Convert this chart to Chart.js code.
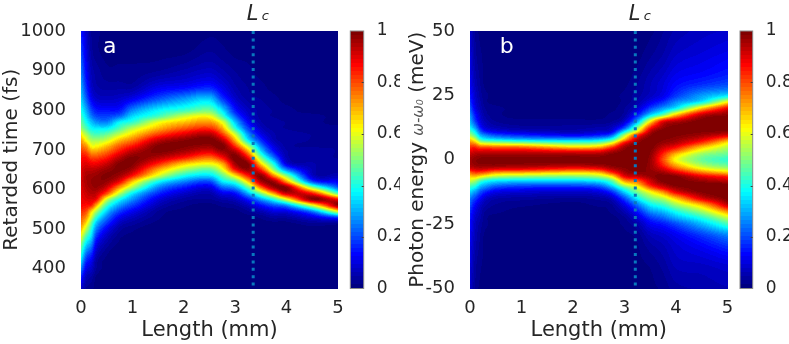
<!DOCTYPE html>
<html>
<head>
<meta charset="utf-8">
<title>Retarded time and photon energy maps</title>
<script src="https://cdn.jsdelivr.net/npm/chart.js@4"></script>
<style>
  html, body { margin: 0; padding: 0; background: #fff; overflow: hidden; }
  canvas { position: absolute; top: 0; }
</style>
</head>
<body>
<canvas id="map-time" width="351" height="344" style="left:0"></canvas>
<canvas id="bar-time" width="55" height="344" style="left:345px"></canvas>
<canvas id="map-energy" width="351" height="344" style="left:390px"></canvas>
<canvas id="bar-energy" width="54" height="344" style="left:735px"></canvas>
<script>
// Values, in percent of full scale. One inner list per length, top row first.
const lengthTicks = [0, 1, 2, 3, 4, 5];
const timeTicks = [400, 500, 600, 700, 800, 900, 1000];
const energyTicks = [-50, -25, 0, 25, 50];
const barTicks = [0, 0.2, 0.4, 0.6, 0.8, 1];

const timeLengths = [0, 0.1, 0.2, 0.3, 0.5, 0.75, 1, 1.5, 2, 2.5, 2.75, 3, 3.25, 3.5, 3.75, 4, 4.5, 5];
const timeRows = [1000, 950, 900, 860, 830, 800, 785, 770, 755, 740, 725, 710, 695, 680, 665, 650, 635,
  620, 605, 590, 575, 560, 545, 530, 515, 500, 480, 460, 440, 420, 400, 375, 350];
const timeMap = [
  [15,20,25,30,34,40,44,48,53,63,71,77,82,86,88,90,90,91,90,89,88,87,83,79,75,69,60,50,43,35,26,15,8],
  [8,10,13,17,22,30,34,39,45,54,62,72,80,86,90,93,95,95,94,92,90,86,80,73,65,56,44,34,25,17,11,6,3],
  [3,4,6,8,12,20,25,32,38,46,54,62,72,81,88,93,96,97,96,94,90,84,67,58,48,41,34,26,18,12,8,4,2],
  [2,2,4,5,8,15,20,27,36,44,53,62,72,81,88,94,97,98,97,93,87,70,54,42,32,25,17,11,7,4,3,1,1],
  [1,1,2,4,7,14,19,25,36,47,57,68,77,85,92,97,99,97,91,80,58,44,33,25,18,12,7,4,2,1,1,0,0],
  [0,1,2,4,8,15,23,37,45,56,68,78,86,94,99,99,96,88,72,56,39,28,19,12,7,4,2,1,0,0,0,0,0],
  [0,1,2,4,11,26,34,42,55,65,75,85,94,99,99,95,86,68,54,37,27,19,12,7,4,2,1,0,0,0,0,0,0],
  [0,1,3,10,20,37,44,60,69,80,92,99,99,94,84,71,59,39,26,17,10,6,3,2,1,0,0,0,0,0,0,0,0],
  [0,1,5,12,27,43,57,68,78,89,98,99,95,85,68,54,40,26,15,8,4,2,1,0,0,0,0,0,0,0,0,0,0],
  [1,3,7,15,32,48,61,72,82,94,100,97,89,76,62,47,35,20,10,5,3,1,1,0,0,0,0,0,0,0,0,0,0],
  [1,2,5,10,18,35,44,60,70,81,93,100,96,86,71,60,47,36,22,11,5,2,1,0,0,0,0,0,0,0,0,0,0],
  [1,1,3,5,8,15,22,32,41,57,69,82,95,100,96,86,65,44,28,14,7,3,1,1,0,0,0,0,0,0,0,0,0],
  [1,1,2,3,4,7,9,13,19,27,36,55,72,87,99,97,85,67,47,30,15,7,3,1,1,0,0,0,0,0,0,0,0],
  [1,1,1,2,3,4,4,5,7,11,17,26,36,50,66,83,98,95,76,50,28,14,6,2,1,0,0,0,0,0,0,0,0],
  [0,0,1,1,2,3,3,4,4,5,6,10,15,25,39,52,74,96,96,72,41,21,10,4,1,0,0,0,0,0,0,0,0],
  [0,0,0,1,1,2,2,3,3,4,4,4,5,6,10,26,50,72,98,92,60,27,11,4,1,0,0,0,0,0,0,0,0],
  [0,0,0,0,1,1,2,2,2,3,3,3,4,4,5,6,8,20,52,85,98,60,26,10,3,1,0,0,0,0,0,0,0],
  [0,0,0,0,1,1,1,1,2,2,2,3,3,3,4,4,6,12,22,45,87,98,62,20,3,1,0,0,0,0,0,0,0]
];

const energyLengths = [0, 0.1, 0.2, 0.3, 0.5, 1, 2, 2.5, 2.75, 3, 3.25, 3.5, 3.75, 4, 4.5, 5];
const energyRows = [50, 40, 30, 25, 22.5, 20, 17.5, 15, 12.5, 11, 9.5, 8, 6.5, 5, 3.5, 2, 0,
  -2, -3.5, -5, -6.5, -8, -9.5, -11, -12.5, -15, -17.5, -20, -22.5, -25, -30, -40, -50];
const energyMap = [
  [8,10,12,15,18,22,27,31,37,46,55,66,75,83,88,93,96,95,90,77,67,59,49,41,34,25,21,17,15,14,12,10,8],
  [3,4,6,8,9,11,15,19,28,36,45,57,71,83,90,95,98,97,92,81,68,55,45,36,28,19,13,10,8,7,6,4,3],
  [1,2,3,4,5,6,8,10,15,22,31,42,60,78,89,96,99,98,93,80,64,47,36,28,21,13,8,6,5,4,3,2,1],
  [1,1,1,2,2,3,4,6,9,15,26,37,57,78,90,96,100,98,92,78,60,42,32,24,16,8,5,3,2,2,1,1,0],
  [0,0,1,1,1,2,2,3,6,11,21,34,55,76,89,96,100,98,90,72,55,38,27,18,11,5,3,2,1,1,1,0,0],
  [0,0,0,0,0,1,1,2,4,8,17,30,52,75,89,96,100,97,89,70,52,36,24,15,9,4,2,1,1,0,0,0,0],
  [0,0,0,0,0,1,1,2,4,6,13,28,47,65,85,96,100,96,84,66,50,36,24,14,8,3,1,1,0,0,0,0,0],
  [0,0,0,0,0,0,1,2,5,8,16,31,50,68,86,96,100,97,87,69,54,39,27,17,10,4,2,1,1,0,0,0,0],
  [0,0,0,1,1,1,2,3,7,11,23,40,61,80,93,99,100,99,94,82,64,48,38,27,17,7,3,2,1,1,0,0,0],
  [0,0,1,2,2,3,4,8,20,36,55,68,87,96,99,100,100,100,98,95,88,74,60,44,34,20,11,6,3,2,1,0,0],
  [0,1,3,4,5,8,15,29,50,63,83,93,98,100,100,100,100,100,100,98,92,80,69,58,49,37,24,15,9,5,2,1,0],
  [1,3,6,7,11,19,33,62,84,93,98,100,100,100,99,98,97,97,97,98,97,92,87,76,62,49,37,27,18,12,6,2,1],
  [3,5,9,11,17,28,47,87,97,100,100,99,97,93,88,83,80,84,90,96,100,100,96,88,74,56,43,32,23,15,8,4,2],
  [5,8,13,18,26,37,67,93,100,100,99,97,94,87,78,68,62,70,79,90,99,100,100,96,89,68,53,40,30,20,11,7,4],
  [7,10,16,28,37,67,92,100,100,99,96,90,81,69,60,52,48,54,63,76,89,96,100,100,99,90,69,54,41,31,17,8,5],
  [8,12,19,35,62,88,98,100,100,98,90,76,63,56,51,47,42,47,55,68,84,92,99,100,100,100,93,74,57,44,24,10,6]
];

const timeCritical = 3.35;
const energyCritical = 3.21;

const TICK_COLOR = '#262626';
const FONT = '"DejaVu Sans"';

// MATLAB jet, 64 levels
function jet(v) {
  const t = Math.min(63, Math.floor(Math.max(0, Math.min(1, v)) * 64)) / 63;
  const c = k => Math.round(255 * Math.max(0, Math.min(1, 1.5 - Math.abs(4 * t - k))));
  return [c(3), c(2), c(1)];
}

// Position of value in a sorted grid: index of the lower node and the fraction to the next one
function gridSlot(grid, value) {
  const falling = grid[0] > grid[grid.length - 1];
  let i = 0;
  while (i < grid.length - 2 && (falling ? grid[i + 1] >= value : grid[i + 1] <= value)) i++;
  const f = (value - grid[i]) / (grid[i + 1] - grid[i]);
  return [i, Math.max(0, Math.min(1, f))];
}

// Hermite weights so the shading between grid nodes has no visible kinks
function hermite(grid, i, f) {
  const h = grid[i + 1] - grid[i];
  const lo = Math.max(0, i - 1), hi = Math.min(grid.length - 1, i + 2);
  const w0 = 2 * f * f * f - 3 * f * f + 1, w1 = -2 * f * f * f + 3 * f * f;
  const t0 = (f * f * f - 2 * f * f + f) * h, t1 = (f * f * f - f * f) * h;
  return { i, lo, hi, w0, w1,
    t0: t0 / (grid[i + 1] - grid[lo]), t1: t1 / (grid[hi] - grid[i]) };
}

function blend(get, s) {
  return s.w0 * get(s.i) + s.w1 * get(s.i + 1)
    + s.t0 * (get(s.i + 1) - get(s.lo)) + s.t1 * (get(s.hi) - get(s.i));
}

// Paints the map dataset inside the chart area, shaded between the grid nodes
const heatPlugin = {
  id: 'heat',
  beforeDatasetsDraw(chart) {
    const ds = chart.data.datasets[0];
    const { left, top, right, bottom } = chart.chartArea;
    const xs = chart.scales.x, ys = chart.scales.y;
    const x0 = Math.round(left), y0 = Math.round(top);
    const w = Math.round(right) - x0, h = Math.round(bottom) - y0;
    const img = chart.ctx.createImageData(w, h);
    const nr = ds.rows.length;
    const cellAt = (c, r) => ds.data[c * nr + r].v;
    const rowWeights = [];
    for (let py = 0; py < h; py++) {
      const [r, f] = gridSlot(ds.rows, ys.getValueForPixel(y0 + py + 0.5));
      rowWeights.push(hermite(ds.rows, r, f));
    }
    for (let px = 0; px < w; px++) {
      const [c, fx] = gridSlot(ds.lengths, xs.getValueForPixel(x0 + px + 0.5));
      const cw = hermite(ds.lengths, c, fx);
      for (let py = 0; py < h; py++) {
        const v = blend(col => blend(row => cellAt(col, row), rowWeights[py]), cw);
        const rgb = jet(v);
        const k = (py * w + px) * 4;
        img.data[k] = rgb[0]; img.data[k + 1] = rgb[1]; img.data[k + 2] = rgb[2]; img.data[k + 3] = 255;
      }
    }
    chart.ctx.putImageData(img, x0, y0);
  }
};

// Panel letter, Lc marker and the rotated y title with its mixed fonts
const textPlugin = {
  id: 'panelText',
  afterDraw(chart, args, opts) {
    const ctx = chart.ctx;
    const xs = chart.scales.x, ys = chart.scales.y;
    ctx.save();
    ctx.textBaseline = 'alphabetic';
    ctx.textAlign = 'left';

    ctx.fillStyle = '#fff';
    ctx.font = `22px ${FONT}`;
    ctx.fillText(opts.letter, xs.getPixelForValue(opts.letterAt[0]), ys.getPixelForValue(opts.letterAt[1]));

    const lineX = xs.getPixelForValue(opts.critical);
    ctx.fillStyle = TICK_COLOR;
    ctx.font = `italic 21px ${FONT}`;
    ctx.fillText('L', lineX - 6.5, 20);
    ctx.font = `italic 13px ${FONT}`;
    ctx.fillText('c', lineX + 8.5, 20);

    ctx.translate(opts.titleX, (chart.chartArea.top + chart.chartArea.bottom) / 2);
    ctx.rotate(-Math.PI / 2);
    let total = 0;
    opts.title.forEach(run => { ctx.font = run.font; total += ctx.measureText(run.text).width; });
    let at = -total / 2;
    opts.title.forEach(run => {
      ctx.font = run.font;
      ctx.fillStyle = run.color;
      ctx.fillText(run.text, at, 0);
      at += ctx.measureText(run.text).width;
    });
    ctx.restore();
  }
};

function buildCells(lengths, rows, map) {
  const cells = [];
  lengths.forEach((x, c) => rows.forEach((y, r) => cells.push({ x, y, v: map[c][r] / 100 })));
  return cells;
}

function makeMap(id, cfg) {
  return new Chart(document.getElementById(id), {
    type: 'scatter',
    data: {
      datasets: [
        { label: 'Intensity', data: buildCells(cfg.lengths, cfg.rows, cfg.map), lengths: cfg.lengths, rows: cfg.rows, pointRadius: 0 },
        {
          label: 'Lc',
          data: [{ x: cfg.critical, y: cfg.yMax }, { x: cfg.critical, y: cfg.yMin }],
          showLine: true, pointRadius: 0, borderColor: '#0877BE', borderWidth: 3, borderDash: [3, 4.4]
        }
      ]
    },
    plugins: [heatPlugin, textPlugin],
    options: {
      responsive: false,
      animation: false,
      events: [],
      layout: { padding: { top: 31, right: cfg.padRight, bottom: 0, left: 0 } },
      plugins: {
        legend: { display: false },
        tooltip: { enabled: false },
        panelText: { letter: cfg.letter, letterAt: cfg.letterAt, critical: cfg.critical, titleX: cfg.titleX, title: cfg.title }
      },
      scales: {
        x: {
          type: 'linear', min: 0, max: 5,
          grid: { display: false }, border: { display: false },
          afterFit: s => { s.height = 55.5; },
          afterBuildTicks: s => { s.ticks = lengthTicks.map(value => ({ value })); },
          ticks: { color: TICK_COLOR, font: { family: FONT, size: 18 }, padding: 1, maxRotation: 0 },
          title: { display: true, text: 'Length (mm)', color: TICK_COLOR, font: { family: FONT, size: 21 }, padding: { top: 0, bottom: 1 } }
        },
        y: {
          type: 'linear', min: cfg.yMin, max: cfg.yMax,
          grid: { display: false }, border: { display: false },
          afterFit: s => { s.width = cfg.yWidth; },
          afterBuildTicks: s => { s.ticks = cfg.ticks.map(value => ({ value })); },
          ticks: { color: TICK_COLOR, font: { family: FONT, size: 18 }, padding: 7, callback: v => String(v) }
        }
      }
    }
  });
}

// Colour bar is one floating bar from 0 to 1 filled with the 64 jet levels
const barFramePlugin = {
  id: 'barFrame',
  afterDraw(chart) {
    const { left, top, right, bottom } = chart.chartArea;
    const ctx = chart.ctx, ys = chart.scales.y;
    ctx.save();
    ctx.strokeStyle = '#8a8a8a';
    ctx.lineWidth = 1;
    ctx.strokeRect(left, top, right - left, bottom - top);
    ctx.strokeStyle = '#404040';
    barTicks.slice(1, -1).forEach(v => {
      const y = Math.round(ys.getPixelForValue(v)) + 0.5;
      ctx.beginPath();
      ctx.moveTo(right - 2, y);
      ctx.lineTo(right, y);
      ctx.stroke();
    });
    ctx.restore();
  }
};

function makeBar(id, padLeft, barWidth, canvasWidth) {
  return new Chart(document.getElementById(id), {
    type: 'bar',
    data: {
      labels: ['Intensity'],
      datasets: [{
        data: [[0, 1]],
        barPercentage: 1,
        categoryPercentage: 1,
        backgroundColor: ctx => {
          const area = ctx.chart.chartArea;
          if (!area) return '#000';
          const g = ctx.chart.ctx.createLinearGradient(0, area.bottom, 0, area.top);
          for (let i = 0; i < 64; i++) {
            const color = `rgb(${jet((i + 0.5) / 64).join(',')})`;
            g.addColorStop(i / 64, color);
            g.addColorStop((i + 1) / 64, color);
          }
          return g;
        }
      }]
    },
    plugins: [barFramePlugin],
    options: {
      responsive: false,
      animation: false,
      events: [],
      layout: { padding: { top: 31, right: 0, bottom: 55.5, left: padLeft } },
      plugins: { legend: { display: false }, tooltip: { enabled: false } },
      scales: {
        x: { display: false },
        y: {
          position: 'right', min: 0, max: 1,
          grid: { display: false }, border: { display: false },
          afterFit: s => { s.width = canvasWidth - padLeft - barWidth; },
          afterBuildTicks: s => { s.ticks = barTicks.map(value => ({ value })); },
          ticks: { color: TICK_COLOR, font: { family: FONT, size: 17 }, padding: 5, callback: v => String(v) }
        }
      }
    }
  });
}

makeMap('map-time', {
  lengths: timeLengths, rows: timeRows, map: timeMap, ticks: timeTicks,
  yMin: 350, yMax: 1000, yWidth: 81, padRight: 13,
  critical: timeCritical, letter: 'a', letterAt: [0.43, 945], titleX: 17,
  title: [{ text: 'Retarded time (fs)', font: `20px ${FONT}`, color: TICK_COLOR }]
});
makeBar('bar-time', 5.3, 13.4, 55);

makeMap('map-energy', {
  lengths: energyLengths, rows: energyRows, map: energyMap, ticks: energyTicks,
  yMin: -50, yMax: 50, yWidth: 80, padRight: 13.5,
  critical: energyCritical, letter: 'b', letterAt: [0.58, 41.6], titleX: 33,
  title: [
    { text: 'Photon energy ', font: `20px ${FONT}`, color: TICK_COLOR },
    { text: 'ω-ω₀', font: `italic 15px ${FONT}`, color: '#555' },
    { text: ' (meV)', font: `20px ${FONT}`, color: TICK_COLOR }
  ]
});
makeBar('bar-energy', 5, 12.7, 54);
</script>
</body>
</html>
